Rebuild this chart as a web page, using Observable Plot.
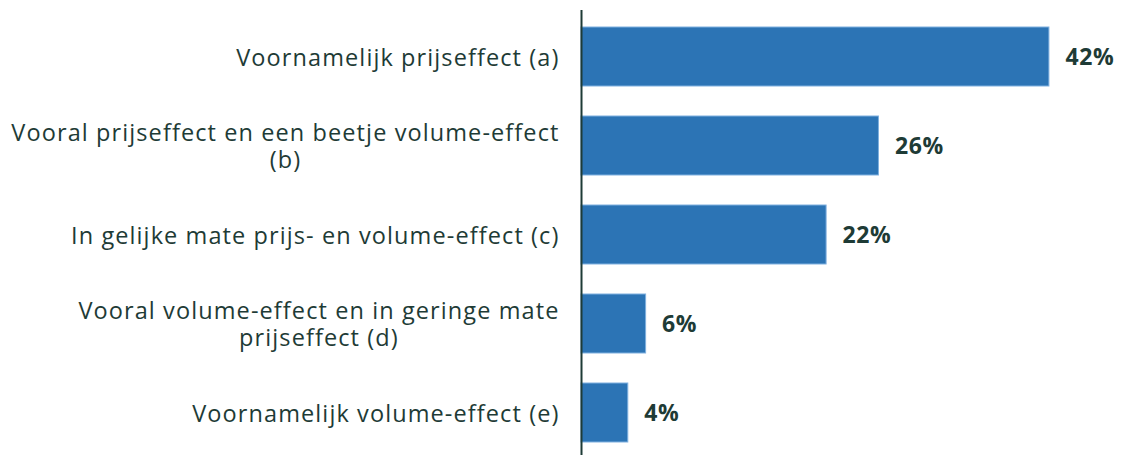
<!DOCTYPE html>
<html>
<head>
<meta charset="utf-8">
<script src="https://cdn.jsdelivr.net/npm/d3@7"></script>
<script src="https://cdn.jsdelivr.net/npm/@observablehq/plot@0.6"></script>
<style>
  html, body { margin: 0; padding: 0; background: #ffffff; }
  #chart { width: 1123px; height: 455px; }
</style>
</head>
<body>
<div id="chart"></div>
<script>
const categories = [
  "Voornamelijk prijseffect (a)",
  "Vooral prijseffect en een beetje volume-effect\n(b)",
  "In gelijke mate prijs- en volume-effect (c)",
  "Vooral volume-effect en in geringe mate\nprijseffect (d)",
  "Voornamelijk volume-effect (e)"
];
const values = [42, 26.7, 22, 5.8, 4.2];
const valueLabels = ["42%", "26%", "22%", "6%", "4%"];

const data = categories.map((c, i) => ({cat: c, value: values[i], label: valueLabels[i]}));

const textColor = "#1e3b36";
const barColor = "#2c74b5";

const chart = Plot.plot({
  width: 1123,
  height: 455,
  marginLeft: 581,
  marginRight: 0,
  marginTop: 14,
  marginBottom: 0,
  style: {fontFamily: "'Open Sans', sans-serif", background: "#ffffff"},
  x: {domain: [0, 48.65], axis: null},
  y: {domain: categories, axis: null, paddingInner: 1/3, paddingOuter: 0.1167},
  marks: [
    Plot.barX(data, {x: "value", y: "cat", fill: barColor, stroke: "#7fb0df", strokeWidth: 1}),
    Plot.ruleX([0], {stroke: textColor, strokeWidth: 2, insetTop: -4}),
    Plot.text(data, {
      x: 0, y: "cat", text: "cat", textAnchor: "end", dx: -22,
      fontSize: 23.5, fill: textColor, lineHeight: 1.16
    }),
    Plot.text(data, {
      x: "value", y: "cat", text: "label", textAnchor: "start", dx: 16, dy: 1,
      fontSize: 23, fontWeight: "bold", fill: textColor
    })
  ]
});
document.getElementById("chart").appendChild(chart);

const textGroups = chart.querySelectorAll('g[aria-label="text"]');
// category labels: wider tracking, lines centered relative to each other
textGroups[0].querySelectorAll("text").forEach(t => {
  t.style.letterSpacing = "1.1px";
  const spans = t.querySelectorAll("tspan");
  if (spans.length > 1) {
    let w = 0;
    spans.forEach(s => { w = Math.max(w, s.getComputedTextLength()); });
    t.setAttribute("text-anchor", "middle");
    t.style.textAnchor = "middle";
    spans.forEach(s => s.setAttribute("x", -w / 2));
  }
});
if (textGroups[1]) textGroups[1].querySelectorAll("text").forEach(t => { t.style.letterSpacing = "0.6px"; });
</script>
</body>
</html>
